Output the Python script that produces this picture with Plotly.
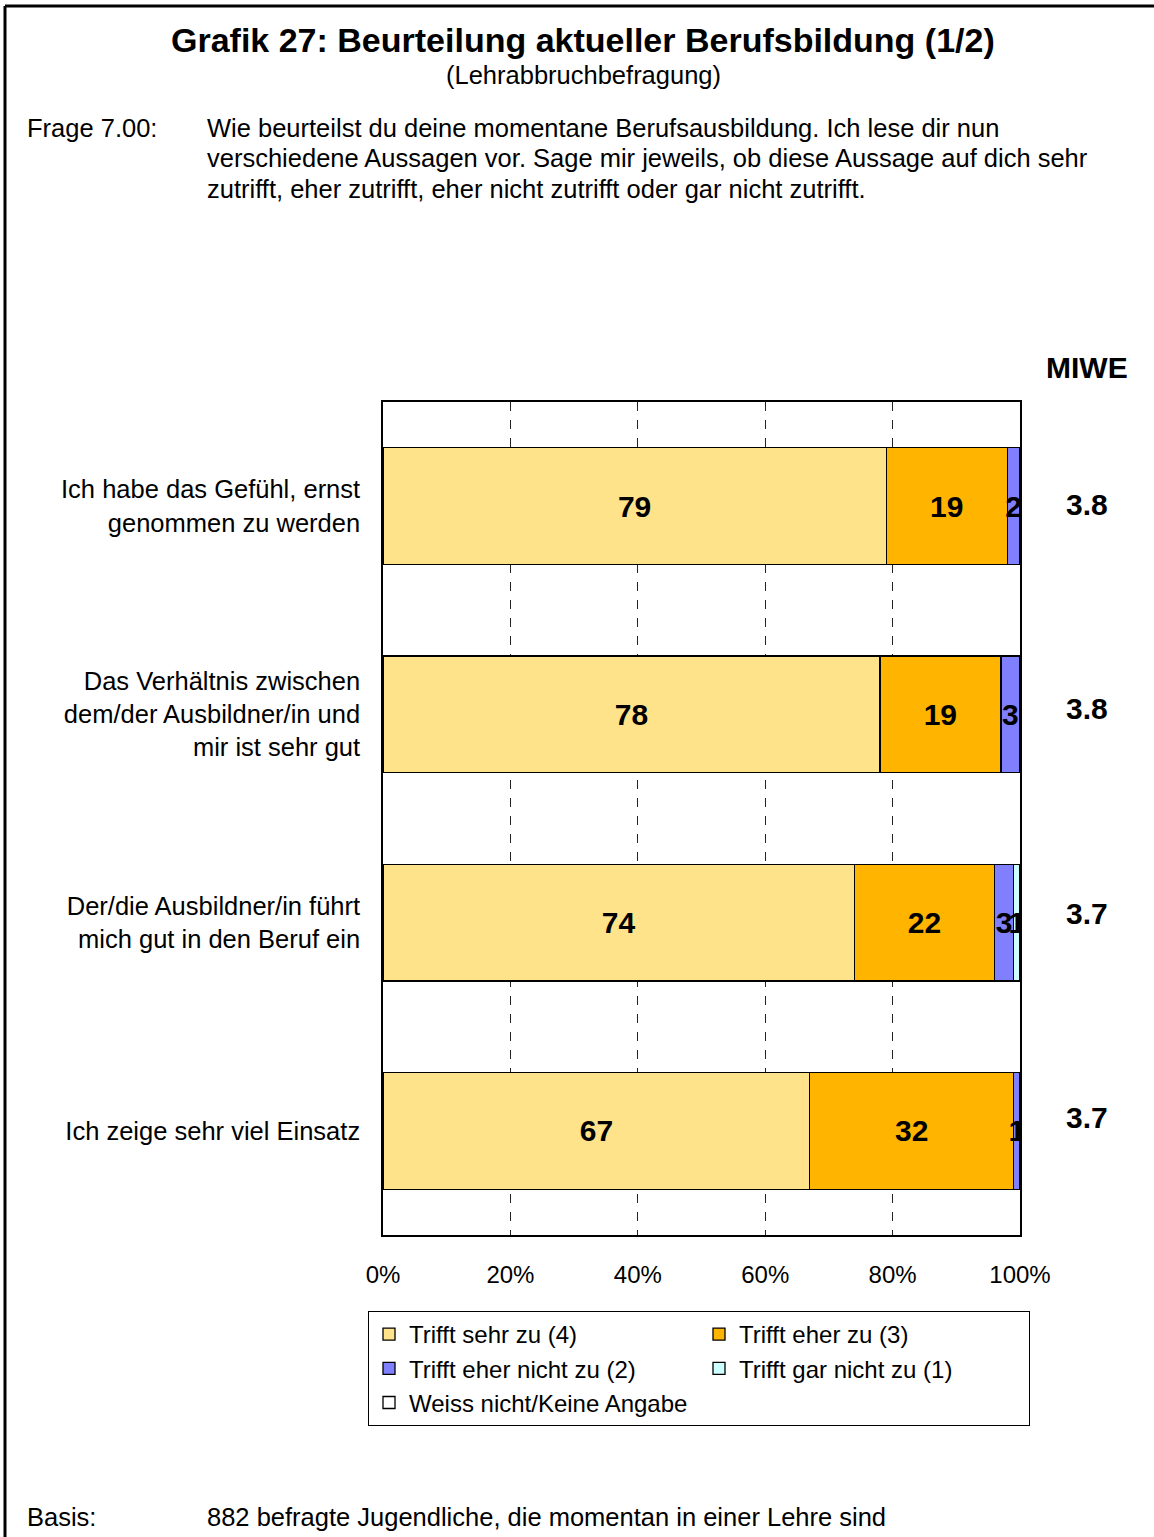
import plotly.graph_objects as go

# ---------------- data ----------------
statements = [
    "Ich habe das Gefühl, ernst<br>genommen zu werden",
    "Das Verhältnis zwischen<br>dem/der Ausbildner/in und<br>mir ist sehr gut",
    "Der/die Ausbildner/in führt<br>mich gut in den Beruf ein",
    "Ich zeige sehr viel Einsatz",
]
series_names = [
    "Trifft sehr zu (4)",
    "Trifft eher zu (3)",
    "Trifft eher nicht zu (2)",
    "Trifft gar nicht zu (1)",
    "Weiss nicht/Keine Angabe",
]
sehr_zu = [79, 78, 74, 67]
eher_zu = [19, 19, 22, 32]
eher_nicht = [2, 3, 3, 1]
gar_nicht = [0, 0, 1, 0]
weiss_nicht = [0, 0, 0, 0]
series_values = [sehr_zu, eher_zu, eher_nicht, gar_nicht, weiss_nicht]
miwe = ["3.8", "3.8", "3.7", "3.7"]
x_ticks = [0, 20, 40, 60, 80, 100]
x_tick_labels = ["0%", "20%", "40%", "60%", "80%", "100%"]

# ---------------- style ----------------
colors = ["#FFE38A", "#FFB400", "#8080FF", "#CCFFFF", "#FFFFFF"]
FONT = "Liberation Sans, Arial, sans-serif"
W, H = 1154, 1537
L, R, T, B = 383, 134, 402, 302
PW, PH = W - L - R, H - T - B
TXT = 25.5


def px_x(px):
    return (px - L) / PW


def px_y(py):
    return 1 - (py - T) / PH


fig = go.Figure()
for name, vals, col in zip(series_names, series_values, colors):
    fig.add_trace(go.Bar(
        y=statements, x=vals, name=name, orientation="h",
        marker=dict(color=col, line=dict(color="black", width=1.3)),
        width=0.56,
        text=[str(v) if v > 0 else "" for v in vals],
        textposition="inside", insidetextanchor="middle", textangle=0,
        textfont=dict(family=FONT, size=30, color="black", weight="bold"),
        hoverinfo="skip",
    ))

annotations = [
    dict(text="<b>Grafik 27: Beurteilung aktueller Berufsbildung (1/2)</b>",
         x=px_x(583), y=px_y(40), xanchor="center", yanchor="middle",
         font=dict(size=34)),
    dict(text="(Lehrabbruchbefragung)", x=px_x(583), y=px_y(75),
         xanchor="center", yanchor="middle", font=dict(size=TXT)),
    dict(text="Frage 7.00:", x=px_x(25), y=px_y(128), xanchor="left",
         yanchor="middle", font=dict(size=TXT)),
    dict(text="Wie beurteilst du deine momentane Berufsausbildung. Ich lese dir nun",
         x=px_x(205), y=px_y(128), xanchor="left", yanchor="middle", font=dict(size=TXT)),
    dict(text="verschiedene Aussagen vor. Sage mir jeweils, ob diese Aussage auf dich sehr",
         x=px_x(205), y=px_y(158), xanchor="left", yanchor="middle", font=dict(size=TXT)),
    dict(text="zutrifft, eher zutrifft, eher nicht zutrifft oder gar nicht zutrifft.",
         x=px_x(205), y=px_y(189), xanchor="left", yanchor="middle", font=dict(size=TXT)),
    dict(text="<b>MIWE</b>", x=px_x(1087), y=px_y(368), xanchor="center",
         yanchor="middle", font=dict(size=30)),
    dict(text="Basis:", x=px_x(25), y=px_y(1517), xanchor="left",
         yanchor="middle", font=dict(size=TXT)),
    dict(text="882 befragte Jugendliche, die momentan in einer Lehre sind",
         x=px_x(205), y=px_y(1517), xanchor="left", yanchor="middle", font=dict(size=TXT)),
]
for i, (cat, m) in enumerate(zip(statements, miwe)):
    annotations.append(dict(text=f"<b>{m}</b>", x=px_x(1087), xref="paper",
                            y=cat, yref="y", xanchor="center", yanchor="middle",
                            yshift=2 + 3.7 * i, font=dict(size=30)))
for a in annotations:
    a.setdefault("xref", "paper")
    a.setdefault("yref", "paper")
    a["showarrow"] = False

shapes = [
    dict(type="line", xref="paper", yref="paper", x0=px_x(5), x1=px_x(W),
         y0=px_y(6), y1=px_y(6), line=dict(color="black", width=3)),
    dict(type="line", xref="paper", yref="paper", x0=px_x(5), x1=px_x(5),
         y0=px_y(6), y1=px_y(H), line=dict(color="black", width=3)),
]

fig.update_layout(
    width=W, height=H,
    margin=dict(l=L, r=R, t=T, b=B),
    barmode="stack",
    paper_bgcolor="white", plot_bgcolor="white",
    font=dict(family=FONT, size=TXT, color="black"),
    uniformtext=dict(minsize=30, mode="show"),
    annotations=annotations,
    shapes=shapes,
    showlegend=True,
    legend=dict(
        orientation="h", x=px_x(1030), xanchor="right", y=px_y(1311), yanchor="top",
        bordercolor="black", borderwidth=1, bgcolor="white",
        entrywidth=285, entrywidthmode="pixels", traceorder="normal",
        font=dict(size=24), itemclick=False, itemdoubleclick=False,
    ),
    xaxis=dict(
        range=[0, 100], tickvals=x_ticks, ticktext=x_tick_labels,
        showgrid=True, gridcolor="#222", griddash="dash", gridwidth=1,
        showline=True, mirror=True, linecolor="black", linewidth=1.5,
        zeroline=False, ticks="", ticklabelstandoff=17,
        tickfont=dict(size=24), fixedrange=True,
    ),
    yaxis=dict(
        categoryorder="array", categoryarray=statements,
        range=[3.5, -0.5], showgrid=False,
        showline=True, mirror=True, linecolor="black", linewidth=1.5,
        ticks="", ticklabelstandoff=16, tickfont=dict(size=TXT), fixedrange=True,
    ),
)

fig.write_html("out.html", config={"displayModeBar": False},
               post_script="document.body.style.margin='0';")
